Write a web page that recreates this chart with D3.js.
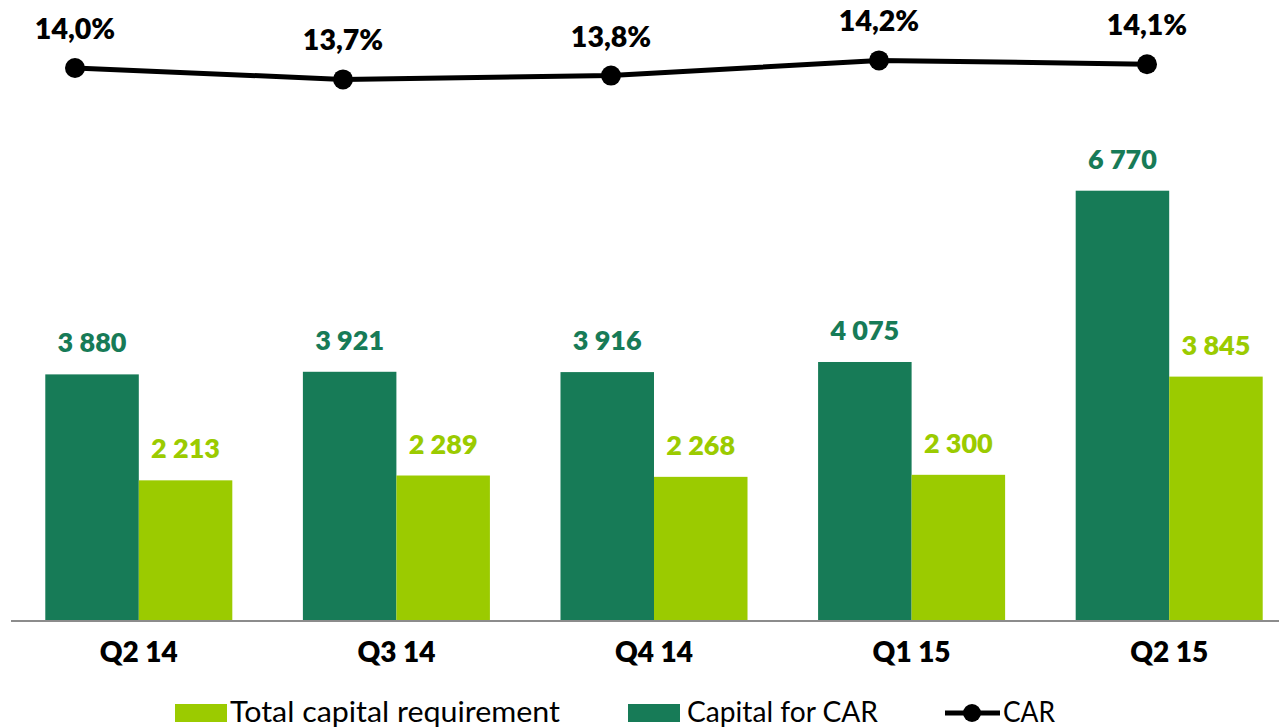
<!DOCTYPE html>
<html>
<head>
<meta charset="utf-8">
<script src="https://cdn.jsdelivr.net/npm/d3@7"></script>
<style>
  html, body { margin: 0; padding: 0; background: #fff; }
  svg { display: block; font-family: Lato, "Open Sans", sans-serif; }
</style>
</head>
<body>
<div id="chart"></div>
<script>
// chart data
const quarters = ['Q2 14', 'Q3 14', 'Q4 14', 'Q1 15', 'Q2 15'];
const capitalForCar = [3880, 3921, 3916, 4075, 6770];
const totalRequirement = [2213, 2289, 2268, 2300, 3845];
const carRatio = [14.0, 13.7, 13.8, 14.2, 14.1];
const seriesNames = ['Capital for CAR', 'Total capital requirement'];

const width = 1279, height = 728;
const darkGreen = '#177b57';
const lightGreen = '#9bcb00';

const svg = d3.select('#chart')
    .append('svg')
    .attr('width', width)
    .attr('height', height);

// bar scales
const x = d3.scaleBand()
    .domain(quarters)
    .range([10, 1298])
    .paddingInner(0.274)
    .paddingOuter(0.137);

const xSub = d3.scaleBand()
    .domain(seriesNames)
    .range([0, x.bandwidth()]);

const y = d3.scaleLinear()
    .domain([0, 7000])
    .range([621, 621 - 0.06356 * 7000]);

// line scales (separate axis, as in the original)
const xLine = d3.scalePoint()
    .domain(quarters)
    .range([75, 1147]);

const yLine = d3.scaleLinear()
    .domain([13.5, 14.5])
    .range([87, 49]);

const rows = quarters.map((q, i) => ({
    q: q,
    values: [
        { name: seriesNames[0], v: capitalForCar[i], color: darkGreen },
        { name: seriesNames[1], v: totalRequirement[i], color: lightGreen }
    ]
}));

const fmt = v => d3.format(',')(v).replace(/,/g, ' ');

const groups = svg.append('g')
    .selectAll('g')
    .data(rows)
    .join('g')
    .attr('transform', d => `translate(${x(d.q)},0)`);

groups.selectAll('rect')
    .data(d => d.values)
    .join('rect')
    .attr('x', d => xSub(d.name))
    .attr('y', d => y(d.v))
    .attr('width', xSub.bandwidth())
    .attr('height', d => y(0) - y(d.v))
    .attr('fill', d => d.color);

groups.selectAll('text')
    .data(d => d.values)
    .join('text')
    .attr('x', d => xSub(d.name) + xSub.bandwidth() / 2)
    .attr('y', d => y(d.v) - 22)
    .attr('text-anchor', 'middle')
    .attr('font-size', 27)
    .attr('font-weight', 800)
    .attr('fill', d => d.color)
    .text(d => fmt(d.v));

// x axis
const xAxis = svg.append('g')
    .attr('transform', `translate(0,${y(0)})`)
    .call(d3.axisBottom(x).tickSize(0).tickPadding(21));

xAxis.select('.domain')
    .attr('d', `M11,0H${width}`)
    .attr('stroke', '#8c8c8c')
    .attr('stroke-width', 2);

xAxis.selectAll('text')
    .attr('font-family', 'Lato, "Open Sans", sans-serif')
    .attr('font-size', 28)
    .attr('font-weight', 800)
    .attr('fill', '#000');

// CAR line
const line = d3.line()
    .x((d, i) => xLine(quarters[i]))
    .y(d => yLine(d));

svg.append('path')
    .datum(carRatio)
    .attr('d', line)
    .attr('fill', 'none')
    .attr('stroke', '#000')
    .attr('stroke-width', 5);

svg.append('g')
    .selectAll('circle')
    .data(carRatio)
    .join('circle')
    .attr('cx', (d, i) => xLine(quarters[i]))
    .attr('cy', d => yLine(d))
    .attr('r', 10)
    .attr('fill', '#000');

svg.append('g')
    .selectAll('text')
    .data(carRatio)
    .join('text')
    .attr('x', (d, i) => xLine(quarters[i]))
    .attr('y', d => yLine(d) - 29)
    .attr('text-anchor', 'middle')
    .attr('font-size', 28.5)
    .attr('font-weight', 800)
    .attr('fill', '#000')
    .text(d => d.toFixed(1).replace('.', ',') + '%');

// legend
const legend = svg.append('g').attr('transform', 'translate(0,713)');

legend.append('rect')
    .attr('x', 175).attr('y', -9)
    .attr('width', 52).attr('height', 18)
    .attr('fill', lightGreen);
legend.append('text')
    .attr('x', 230).attr('y', 9)
    .attr('font-size', 28)
    .attr('textLength', 330)
    .attr('lengthAdjust', 'spacingAndGlyphs')
    .text('Total capital requirement');

legend.append('rect')
    .attr('x', 628).attr('y', -9)
    .attr('width', 52).attr('height', 18)
    .attr('fill', darkGreen);
legend.append('text')
    .attr('x', 687).attr('y', 9)
    .attr('font-size', 28)
    .attr('textLength', 191)
    .attr('lengthAdjust', 'spacingAndGlyphs')
    .text('Capital for CAR');

legend.append('line')
    .attr('x1', 945).attr('x2', 1000)
    .attr('y1', 0).attr('y2', 0)
    .attr('stroke', '#000')
    .attr('stroke-width', 5);
legend.append('circle')
    .attr('cx', 972).attr('cy', 0)
    .attr('r', 9)
    .attr('fill', '#000');
legend.append('text')
    .attr('x', 1003).attr('y', 9)
    .attr('font-size', 28)
    .attr('textLength', 52)
    .attr('lengthAdjust', 'spacingAndGlyphs')
    .text('CAR');
</script>
</body>
</html>
